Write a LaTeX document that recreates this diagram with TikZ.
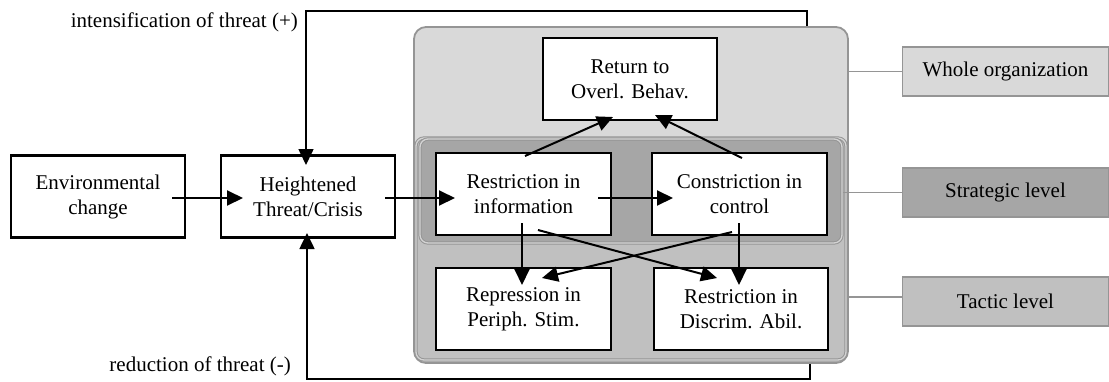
\documentclass[tikz,border=0pt]{standalone}
\usepackage{fontspec}
\setmainfont{Liberation Serif}
\usetikzlibrary{arrows.meta,calc}
\definecolor{panelA}{HTML}{D9D9D9}
\definecolor{panelB}{HTML}{C0C0C0}
\definecolor{panelC}{HTML}{A6A6A6}
\definecolor{rim}{HTML}{959595}
\definecolor{rimlight}{HTML}{D4D4D4}
\begin{document}
\begin{tikzpicture}[x=1pt,y=-1pt,
  font=\fontsize{21}{25}\selectfont,
  stepbox/.style={draw=black,line width=2.7pt,fill=white,align=center,
    minimum width=174pt,minimum height=82pt,inner sep=0pt},
  panel/.style={draw=rim,line width=1.8pt,rounded corners=12pt,inner sep=0pt},
  subpanel/.style={draw=rim,line width=1pt,double=rimlight,double distance=1.3pt,
    rounded corners=8pt,inner sep=0pt},
  levelbox/.style={draw=rim,line width=1.5pt,minimum width=206pt,minimum height=49pt,
    inner sep=0pt},
  levelline/.style={draw=rim,line width=1.5pt},
  flow/.style={line width=2pt,-{Triangle[length=16pt,width=15pt]}},
  looparrow/.style={line width=1.6pt,-{Triangle[length=16pt,width=15pt]}}]
\useasboundingbox (0,0) rectangle (1109,381);

% nested level panels
\node[panel,fill=panelA,minimum width=434pt,minimum height=336pt] (whole) at (631,195) {};
\node[subpanel,fill=panelB,minimum width=430pt,minimum height=222pt] (tactic) at (631,249) {};
\node[subpanel,fill=panelC,minimum width=422pt,minimum height=104pt] (strat) at (631,191) {};

% process boxes
\node[stepbox] (env)    at (98,196.5)  {Environmental\\change};
\node[stepbox] (threat) at (308,196.5) {Heightened\\Threat/Crisis};
\node[stepbox] (ret)    at (630,79)    {Return to\\Overl. Behav.};
\node[stepbox,minimum width=175pt] (rinfo) at (523.5,194) {Restriction in\\information};
\node[stepbox,minimum width=175pt] (cctrl) at (739.5,194) {Constriction in\\control};
\node[stepbox,minimum width=175pt] (repr)  at (523.5,309) {Repression in\\Periph. Stim.};
\node[stepbox] (rdisc)  at (741,309)   {Restriction in\\Discrim. Abil.};

% level legend
\node[levelbox,fill=panelA] (lwhole) at (1005.5,71.5)  {Whole organization};
\node[levelbox,fill=panelC] (lstrat) at (1005.5,192.5) {Strategic level};
\node[levelbox,fill=panelB] (ltact)  at (1005.5,301.5) {Tactic level};
\draw[levelline] (lwhole.west) -- (lwhole.west -| whole.east);
\draw[levelline] (lstrat.west) -- (lstrat.west -| strat.east);
\draw[levelline] ([yshift=4.5pt]ltact.west) -- ([yshift=4.5pt]ltact.west -| tactic.east);

% main flow
\draw[flow] ([shift={(74,1.5)}]env.center) -- ([shift={(-65,1.5)}]threat.center);
\draw[flow] ([shift={(77,1.5)}]threat.center) -- ([shift={(-68.5,4)}]rinfo.center);
\draw[flow] ([shift={(74.5,4)}]rinfo.center) -- ([shift={(-66.5,4)}]cctrl.center);
\draw[flow] ([shift={(1.5,-38)}]rinfo.center) -- ([shift={(-17,38)}]ret.center);
\draw[flow] ([shift={(2.5,-36)}]cctrl.center) -- ([shift={(25,36)}]ret.center);
\draw[flow] ([shift={(-1.5,29)}]rinfo.center) -- ([shift={(-1.5,-24)}]repr.center);
\draw[flow] ([shift={(14.5,36)}]rinfo.center) -- ([shift={(-24,-31)}]rdisc.center);
\draw[flow] ([shift={(-7.5,38)}]cctrl.center) -- ([shift={(18.5,-31)}]repr.center);
\draw[flow] ([shift={(-0.5,29)}]cctrl.center) -- ([shift={(-2,-24)}]rdisc.center);

% feedback loops
\coordinate (topout) at ($(whole.north)+(176,0)$);
\coordinate (botout) at ($(whole.south)+(179,0)$);
\draw[looparrow] (topout) |- (306,11) -- ([shift={(-2,-31.5)}]threat.center);
\draw[looparrow] (botout) |- (307,379) -- ([shift={(-1,36.5)}]threat.center);

\node[anchor=east,inner sep=0pt] (lplus)  at (298,22)  {intensification of threat (+)};
\node[anchor=east,inner sep=0pt] (lminus) at (291,366) {reduction of threat (-)};
\end{tikzpicture}
\end{document}
